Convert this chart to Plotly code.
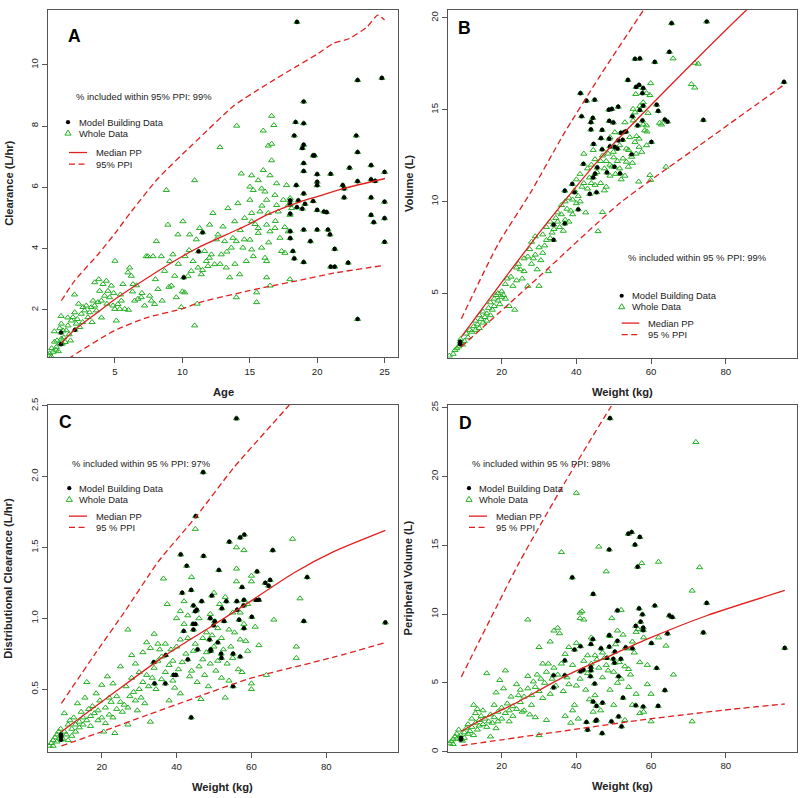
import plotly.graph_objects as go

W, H = 800, 798
FONT = "Arial, 'Liberation Sans', Helvetica, sans-serif"
GREEN = "#22b022"
RED = "#e0201e"
FRAME = "#555555"
TXT = "#222222"

# ---------------- Panel A: Clearance vs Age ----------------
a_model = [(0.99,1.26),(0.99,0.88),(2.03,1.35),(10.1,3.06),(11.2,3.91),(11.5,4.53),(18.5,11.40),(18.4,8.13),
           (18.3,7.69),(19.0,8.80),(19.0,8.09),(19.0,7.39),(18.9,7.28),(19.0,6.79),(19.0,6.53),(18.45,6.07),
           (18.0,5.57),(18.0,5.45),(18.0,5.14),(18.6,5.57),(18.5,5.35),(18.9,5.30),(19.0,5.80),(19.1,5.46),
           (18.0,4.57),(18.0,4.34),(18.2,3.92),(18.3,3.68),(19.0,4.62),(19.0,3.56),(19.7,7.04),(19.8,7.04),
           (19.7,5.55),(20.0,6.43),(20.0,6.18),(20.0,6.07),(20.0,5.26),(20.0,4.62),(19.5,4.24),(20.5,5.21),
           (20.7,5.19),(21.0,6.44),(20.8,4.62),(20.95,4.46),(21.3,3.99),(21.0,3.41),(21.3,3.41),(21.9,6.07),
           (22.0,5.96),(22.0,5.67),(22.4,6.64),(22.3,3.54),(22.9,7.69),(23.0,9.50),(23.0,7.15),(23.0,6.20),
           (23.0,1.70),(24.0,6.72),(24.0,6.26),(24.0,5.67),(24.0,5.10),(24.2,4.86),(24.3,6.21),(24.8,9.57),
           (25.0,6.50),(25.0,5.53),(25.0,4.99),(25.0,4.22)]
a_other = [(0.40,0.63),(0.65,0.79),(0.90,0.90),(0.52,0.96),(1.02,1.06),(0.28,0.47),(0.15,0.58),(1.14,1.33),
           (1.02,1.55),(1.39,1.33),(1.51,1.49),(1.76,1.65),(1.88,1.76),(2.01,1.92),(2.13,1.55),(2.38,1.44),
           (2.50,1.87),(2.63,2.09),(2.75,1.98),(2.87,2.14),(3.00,1.76),(3.12,1.92),(3.24,2.09),(3.37,2.30),
           (3.49,2.14),(3.62,1.98),(3.74,2.25),(3.86,2.62),(3.99,2.30),(4.11,2.84),(4.23,2.46),(4.36,2.95),
           (4.48,2.62),(4.60,2.41),(4.73,2.79),(4.85,2.14),(4.98,2.03),(5.10,1.65),(5.22,2.19),(5.35,2.03),
           (5.47,2.30),(5.59,2.84),(5.72,2.03),(5.96,3.22),(6.09,3.38),(6.21,3.11),(6.34,2.84),(6.46,2.30),
           (6.71,2.36),(6.95,2.41),(7.20,2.14),(7.32,3.75),(7.45,3.75),(7.57,2.46),(7.70,2.30),(7.82,3.75),
           (7.94,2.19),(8.07,4.24),(8.19,2.68),(8.44,3.75),(8.68,3.27),(8.81,5.91),(8.93,4.78),(9.06,3.59),
           (9.18,2.79),(9.30,3.81),(9.43,3.11),(9.55,2.41),(9.67,4.46),(9.92,2.09),(10.04,4.89),(10.17,2.57),
           (10.42,3.11),(10.54,4.46),(10.66,3.27),(10.79,3.59),(10.91,1.49),(10.91,6.23),(11.03,4.30),
           (11.16,3.38),(11.28,4.67),(11.40,3.16),(11.65,3.92),(11.78,3.59),(11.90,3.43),(12.02,4.78),
           (12.15,3.81),(12.27,5.16),(12.39,3.49),(12.52,4.30),(12.64,4.46),(12.89,3.81),(13.01,4.72),
           (13.14,4.24),(13.26,3.38),(13.38,5.32),(13.51,3.06),(13.63,4.03),(13.75,4.35),(13.88,4.89),
           (14.00,4.24),(14.12,5.48),(14.25,3.16),(14.37,6.45),(14.49,4.03),(14.62,5.00),(14.74,3.59),
           (14.00,2.41),(0.1,0.5),(0.3,0.75),(0.6,0.7),(0.7,1.0),(0.8,0.65),(1.1,0.9),(1.2,1.1),(1.3,0.95),
           (1.6,1.2),(1.7,1.0),(0.5,1.3),(0.9,1.4),(1.0,1.8),(1.5,1.75),(2.2,1.7),(2.3,2.2),(2.0,2.5),
           (2.6,1.6),(3.3,1.6),(3.5,2.9),(3.8,3.0),(4.0,1.75),(4.4,2.2),(4.9,2.55),(5.0,3.6),(5.4,2.5),
           (6.0,2.0),(6.3,2.6),(6.6,2.8),(7.0,2.55),(8.0,3.0),(8.5,2.3),(9.0,2.75),(9.7,3.5),(10.2,3.75),
           (10.0,2.6),(10.5,3.95),(11.1,2.2),(11.5,3.3),(12.0,3.7),(12.8,3.5),(13.3,3.9),(13.9,3.5),
           (14.3,4.6),(14.6,4.3),(12.79,7.31),(14.03,8.01),
           (16.62,8.33),(16.79,8.03),(16.0,7.85),(16.62,7.42),(16.37,7.36),(16.62,6.88),(15.14,6.39),
           (16.0,6.56),(16.50,6.39),(15.63,6.23),(15.01,6.02),(15.26,5.91),(15.88,5.96),(16.13,5.86),
           (16.99,6.13),(17.73,6.07),(16.87,5.75),(15.01,5.59),(16.25,5.59),(16.99,5.42),(17.49,5.59),
           (15.14,5.16),(15.76,5.21),(16.37,5.16),(17.12,5.21),(17.86,5.42),(15.14,4.89),(15.63,4.67),
           (16.25,4.78),(16.87,4.67),(17.24,4.35),(17.86,4.56),(15.01,4.29),(15.63,4.51),(16.50,4.56),
           (15.14,3.97),(15.88,4.03),(17.36,3.92),(17.61,3.86),(15.26,3.75),(16.13,3.70),(16.25,3.59),
           (16.25,3.06),(17.98,3.0),(16.50,2.79),(15.51,2.57),(15.51,2.25),(17.98,5.10),(18.11,5.32),
           (18.0,5.65),(17.6,4.7),(15.4,4.8),(15.9,5.4),(16.4,4.2),(16.9,4.9)]
a_med = [(1.0,0.90),(2.0,1.35),(3.74,1.93),(5.0,2.35),(7.45,3.06),(10.0,3.75),(11.16,4.03),(14.87,4.78),
         (16.25,5.10),(18.72,5.53),(20.0,5.70),(21.94,5.96),(25.03,6.29)]
a_hi = [(1.02,2.30),(2.0,2.95),(3.74,3.81),(5.0,4.5),(6.21,5.21),(8.19,6.29),(10.66,7.36),(11.31,7.63),
        (13.78,8.65),(16.25,9.36),(18.48,9.95),(20.0,10.35),(21.2,10.7),(22.4,10.86),(23.7,11.24),
        (24.5,11.62),(25.0,11.46)]
a_lo = [(1.0,0.22),(1.76,0.47),(4.98,1.33),(7.45,1.76),(9.92,2.03),(11.31,2.25),(14.87,2.62),
        (16.25,2.75),(18.5,2.95),(21.2,3.20),(24.9,3.45)]

# ---------------- Panel B: Volume vs Weight ----------------
b_model = [(8.9,2.36),(8.9,2.23),(33.9,8.74),(33.9,7.91),(36.9,8.80),(36.9,10.59),(38.9,10.95),(39.5,10.50),
           (40.5,9.57),(41.1,15.90),(41.4,14.64),(41.9,12.05),(42.7,15.49),(43.6,10.41),(43.9,14.32),
           (43.9,13.92),(44.4,14.55),(44.5,11.31),(44.6,13.13),(45.0,11.51),(44.9,15.54),(45.4,10.50),
           (45.6,11.85),(46.6,13.45),(46.9,13.90),(46.9,12.84),(48.2,11.58),(48.7,15.0),(48.8,14.39),
           (48.8,13.42),(49.0,13.0),(49.5,15.04),(49.9,14.3),(50.2,11.89),(50.3,12.97),(51.0,12.88),
           (51.2,15.16),(51.2,13.33),(51.7,11.53),(51.9,13.74),(52.4,13.36),(52.8,13.78),(53.3,13.81),
           (53.8,16.62),(55.0,14.64),(54.8,12.57),(55.7,17.77),(56.0,16.24),(56.4,14.14),(56.8,16.35),
           (57.0,17.79),(57.0,14.98),(57.7,15.90),(57.9,15.22),(57.9,16.17),(57.7,14.41),(60.1,13.24),
           (61.0,17.6),(61.5,15.27),(61.9,14.93),(63.7,14.46),(64.4,14.35),(64.9,18.15),(65.5,19.71),
           (74.0,14.44),(74.9,19.80),(95.6,16.51)]
b_other = [(6,1.6),(7,1.7),(7.5,1.9),(8,2.0),(8.5,2.1),(9,2.5),(9.5,2.2),(10,2.4),(10.5,2.8),(11,2.6),
           (11.5,3.0),(12,2.9),(12.5,3.2),(13,3.0),(13,3.5),(13.5,3.3),(14,3.8),(14,3.1),(14.5,3.6),
           (15,3.4),(15,4.0),(15.5,3.7),(16,3.9),(16,3.5),(16.5,4.2),(17,4.5),(17,3.8),(17.5,4.1),(18,4.7),
           (18,4.3),(18.5,4.9),(19,4.6),(19,5.0),(19.5,4.4),(20,4.8),(20,5.1),(20.5,4.9),(21,5.5),(21,4.7),
           (21.5,5.8),(22,4.3),(22.5,5.9),(23,5.4),(23.5,4.1),(24,6.4),(24,5.7),(24.5,6.6),(25,6.3),
           (25.5,5.8),(26,6.9),(26,6.2),(27,7.0),(27,5.4),(27.5,7.4),(28,6.6),(28,7.8),(28.5,6.9),(29,7.1),
           (29,8.1),(29.5,6.3),(30,7.5),(30,5.4),(30.5,6.8),(31,7.2),(31,8.2),(31.5,7.6),(32,8.6),(32,7.9),
           (32.5,6.2),(33,8.0),(33,8.9),(33.5,8.3),(34,8.5),(34.5,9.1),(35,8.9),(35,9.4),(35.5,8.6),
           (36,9.8),(36,9.3),(36.5,8.4),(37,10.0),(37,9.0),(37.5,9.6),(38,10.2),(38,8.9),(38.5,9.5),
           (39,10.1),(39,9.3),(39.5,10.6),(40,9.9),(40,11.2),(40.5,10.3),(41,10.0),(41,11.5),(41.5,10.8),
           (42,12.6),(42,11.0),(42.5,9.4),(43,11.8),(43,10.7),(43.5,11.3),(44,12.0),(44,11.0),(44.5,12.8),
           (45,12.3),(45,10.9),(45.5,11.6),(45.8,8.38),(47.0,9.42),(56.7,11.08),(59.7,11.44),(59.9,11.17),
           (64.0,11.89),(65.9,17.79),(72.6,17.5),(71.7,17.55),(70.8,16.39),(71.7,16.2),(59.9,16.44),
           (55.9,15.85),(58.8,15.9),(59.7,15.79),(57.9,15.4),(57.0,15.2),(55.2,15.04),(55.7,14.85),
           (59.2,14.82),(62.3,14.28),(62.8,14.19),(53.0,14.31),(55.2,14.41),(57.9,14.19),(58.8,14.14),
           (58.3,13.87),(58.9,13.81),(50.3,13.77),(49.0,13.5),(54.3,13.5),(56.1,13.56),(56.8,13.42),
           (51.6,13.06),(53.4,12.88),(55.7,13.24),(56.8,12.97),(57.5,12.7),(58.8,13.06),(52.5,12.34),
           (53.4,12.16),(54.8,12.43),(49.9,12.7),(51.6,11.8),(53.9,11.89),(46.5,12.2),(46.5,11.0),
           (47.5,11.8),(48,12.2),(48,10.8),(48.5,12.6),(49,12.0),(49,11.4),(50,12.4),(50.5,11.5),(51,12.2),
           (52,11.2),(53,11.4),(54,12.8),(55,12.1),(47,12.5),(47.5,10.6),(49.5,11.9),(56,12.6)]
b_med = [(9.2,2.63),(20,5.6),(32.4,8.9),(46.3,12.34),(64.1,16.1),(86,20.52),(96,22.4)]
b_hi = [(9.2,3.61),(19,7.66),(27.9,10.54),(36.4,13.6),(46.3,16.83),(58.3,20.52),(70,24.0)]
b_lo = [(9.2,2.09),(30,5.9),(51.6,9.9),(73,13.06),(95.8,16.39)]

# ---------------- Panel C: Distributional clearance vs Weight ----------------
c_model = [(9.1,0.167),(9.1,0.144),(9.1,0.18),(33.9,0.69),(34.1,0.54),(37.0,0.54),(37.1,0.74),(39.2,0.60),
           (39.8,0.60),(41.1,1.45),(41.5,1.18),(41.9,0.91),(42.7,1.37),(43.0,0.71),(43.9,1.20),(43.9,0.30),
           (44.4,0.96),(44.5,1.09),(44.5,0.92),(45.0,0.96),(45.1,1.72),(45.0,1.05),(45.4,1.06),(45.6,0.78),
           (46.7,1.12),(47.1,2.03),(47.2,1.44),(49.4,1.16),(48.8,0.85),(49.0,1.0),(49.1,0.78),(49.1,0.77),
           (49.9,0.95),(50.2,0.98),(51.0,0.83),(51.3,1.34),(52.1,1.07),(51.9,0.75),(52.0,0.72),(52.7,0.98),
           (53.3,1.12),(54.1,1.54),(55.1,0.75),(55.1,0.52),(56.0,2.41),(56.1,1.12),(56.2,1.06),(56.7,0.99),
           (57.0,0.73),(57.0,1.57),(57.5,1.22),(57.9,1.09),(58.0,1.13),(58.1,1.59),(58.0,0.93),(60.1,1.01),
           (61.5,1.33),(61.2,1.13),(62.0,1.13),(63.7,1.25),(64.6,1.23),(65.0,1.27),(65.7,1.48),(74.9,1.29),
           (74.0,0.98),(95.8,0.97)]
c_other = [(6,0.1),(6.5,0.12),(7,0.14),(7,0.1),(7.5,0.16),(8,0.18),(8,0.13),(8.5,0.2),(9,0.22),(9.5,0.15),
           (10,0.33),(10,0.2),(10.5,0.18),(11,0.25),(11,0.14),(11.5,0.28),(12,0.22),(12,0.17),(12.5,0.3),
           (13,0.25),(13,0.2),(13.5,0.4),(14,0.27),(14,0.23),(14.5,0.34),(15,0.3),(15,0.25),(15.5,0.44),
           (16,0.28),(16,0.55),(16.5,0.36),(17,0.31),(17,0.24),(17.5,0.38),(18,0.33),(18.5,0.47),(19,0.35),
           (19,0.28),(19.5,0.42),(20,0.3),(20,0.53),(20.5,0.2),(21,0.37),(21,0.26),(21.5,0.59),(22,0.44),
           (22,0.32),(22.5,0.41),(23,0.54),(23,0.3),(23.5,0.19),(24,0.45),(24,0.36),(25,0.66),(25,0.41),
           (25.5,0.34),(26,0.39),(26.5,0.52),(27,0.92),(27,0.37),(27,0.25),(27.5,0.45),(28,0.74),(28,0.58),
           (28.5,0.48),(29,0.68),(29,0.42),(29.5,0.35),(30,0.62),(30,0.5),(30.5,0.44),(31,0.76),(31,0.55),
           (31.5,0.4),(32,0.83),(32,0.6),(32.5,0.52),(33,0.27),(33,0.79),(33.5,0.58),(34,0.89),(34,0.65),
           (34.5,0.5),(35,0.82),(35,0.7),(35.5,0.78),(36,0.57),(36,0.73),(36.5,1.28),(37,0.62),(37,0.82),
           (37.5,1.1),(38,0.67),(38,0.42),(38.5,0.78),(39,0.56),(39,0.7),(39.5,0.51),(40,1.0),(40,0.8),
           (40.5,0.64),(41,1.05),(41,0.85),(41,0.47),(41.5,0.69),(42,1.12),(42,0.96),(42.5,0.75),(43,1.02),
           (43,0.86),(43.5,0.59),(44,1.29),(44,0.63),(44.5,0.77),(45,1.63),(45,0.82),(45.5,0.55),(46,0.66),
           (46,1.0),(46.5,0.43),(47,0.86),(47,0.71),(47.5,0.6),(48,0.9),(48,0.76),(48.5,0.52),(49,1.03),
           (49,0.68),(49.5,0.88),(50,1.18),(50,0.8),(50.5,0.63),(51,0.93),(51,0.7),(51.5,1.1),(52,0.58),
           (52,0.86),(52.5,0.78),(53,1.15),(53,0.44),(53.5,0.68),(54,0.92),(54,0.56),(54.5,0.8),(55,1.04),
           (55,0.72),(55.5,0.9),(56,1.5),(56,1.35),(56,1.26),(56.5,0.64),(57,1.04),(57,0.85),(57.5,0.62),
           (58,1.48),(58,0.96),(58.5,0.84),(59,1.1),(59,0.77),(60,1.3),(60,1.26),(60,0.54),(60,0.5),
           (61,0.94),(62,0.81),(64,0.6),(66,0.99),(71,1.56),(72,0.8),(72,0.72),(73,1.14)]
c_med = [(9.2,0.20),(23.5,0.48),(36.9,0.737),(50.2,0.958),(59.1,1.109),(71.3,1.32),(82,1.47),(95.8,1.62)]
c_hi = [(9.2,0.40),(18.1,0.745),(26.2,1.05),(35.1,1.40),(45.3,1.72),(55.2,2.06),(69.3,2.48),(80,2.8)]
c_lo = [(9.2,0.10),(20,0.20),(32.4,0.32),(45,0.44),(59.5,0.575),(82,0.726),(95.4,0.826)]

# ---------------- Panel D: Peripheral volume vs Weight ----------------
d_model = [(9.1,1.0),(9.1,0.89),(33.9,5.55),(33.9,4.67),(36.9,6.63),(36.9,5.55),(38.9,12.66),(39.5,7.42),
           (41.1,7.66),(41.1,5.84),(41.9,5.96),(42.7,2.15),(43.0,1.6),(43.9,5.91),(43.9,7.82),(44.4,8.18),
           (43.8,5.48),(43.9,6.15),(44.5,11.46),(44.5,3.64),(44.9,4.95),(45.2,2.25),(45.4,3.33),(45.4,2.32),
           (46.6,7.51),(46.9,1.34),(47.0,3.56),(48.2,6.82),(48.8,14.69),(48.8,7.63),(48.8,8.47),(49.4,2.2),
           (49.9,6.75),(50.2,6.46),(50.3,7.27),(51.0,8.06),(51.0,10.26),(51.3,2.56),(51.3,5.48),(51.9,6.75),
           (52.1,1.84),(52.5,3.92),(53.2,7.58),(53.9,15.84),(54.8,15.96),(55.0,7.51),(55.7,15.05),(55.9,9.14),
           (55.9,3.37),(56.4,13.44),(56.8,10.41),(57.0,15.6),(57.2,9.45),(57.7,9.98),(57.9,9.02),(57.9,8.83),
           (57.9,3.28),(60.1,7.89),(61.0,10.62),(61.5,6.08),(61.9,3.33),(63.7,4.47),(64.4,8.59),(64.9,9.9),
           (65.7,9.78),(49.0,24.23),(74.0,8.66),(74.9,10.81),(95.8,7.54)]
d_other = [(6,0.6),(6.5,0.75),(7,0.9),(7,0.55),(7.5,1.1),(8,0.95),(8,1.3),(8.5,1.6),(9,1.2),(9.5,0.8),
           (10,1.4),(10,1.0),(10.5,1.7),(11,1.3),(11,2.0),(11.5,1.5),(12,1.8),(12,2.4),(12.5,3.4),(12.5,1.2),
           (13,2.1),(13,2.8),(13.5,1.6),(13.5,3.1),(14,2.3),(14,1.9),(14.5,2.6),(15,2.0),(15,3.0),(15.5,2.4),
           (16,5.7),(16,1.8),(16.5,2.2),(17,2.7),(17,1.1),(17.5,2.1),(18,3.4),(18,2.5),(18.5,4.3),(18.5,1.7),
           (19,2.9),(19,2.2),(19.5,5.2),(20,3.2),(20,2.4),(20.5,4.6),(21,5.9),(21,2.8),(21.5,3.5),(22,2.2),
           (22,3.0),(22.5,4.0),(23,3.3),(23,2.6),(24,4.9),(24,3.1),(24.5,4.1),(25,4.5),(25,3.6),(25.5,2.9),
           (26,4.0),(26,3.0),(27,9.6),(27,5.5),(27,4.6),(27.5,2.7),(28,4.1),(28,3.4),(28.5,5.1),(29,4.7),
           (29,2.5),(29.5,5.6),(30,7.6),(30,1.2),(30,4.4),(30.5,5.3),(31,6.4),(31,3.9),(31.5,5.0),(32,5.8),
           (32,2.3),(32.5,6.4),(33,8.0),(33,4.2),(33.5,5.3),(34,8.8),(34,6.1),(34.5,4.8),(35,9.0),(35,5.6),
           (35.5,8.6),(36,14.5),(36,6.4),(36.5,4.4),(37,7.1),(37,2.6),(37.5,5.4),(38,7.6),(38,4.9),(38.5,2.1),
           (39,6.3),(39,3.0),(39.5,3.4),(40,18.8),(40,7.9),(40,4.8),(40.5,2.4),(41,10.1),(41,9.7),(41,5.3),
           (41.5,10.2),(42,9.6),(42,6.6),(42.5,4.5),(43,7.0),(43,5.7),(43.5,3.8),(44,8.3),(44,6.4),(44.5,2.9),
           (45,7.0),(45,4.1),(45.5,6.7),(46,14.9),(46,6.1),(46.5,3.0),(47,5.4),(47,7.2),(47.5,6.8),(48,13.1),
           (48,6.3),(48.5,5.9),(49,8.4),(49,4.5),(49.5,9.7),(50,3.4),(50,5.8),(50.5,7.8),(51,8.8),(51,5.0),
           (51.5,6.5),(52,5.3),(52,10.3),(52.5,8.5),(53,6.2),(53,2.3),(53.5,7.5),(54,4.7),(54,6.0),(54.5,5.6),
           (55,8.0),(55,3.4),(55.5,7.2),(56,8.7),(56,4.2),(56.5,8.9),(57,6.5),(57,2.8),(57.5,13.7),(58,8.3),
           (58,2.9),(59,4.9),(59,6.3),(60,4.2),(60,2.2),(62,13.8),(62,8.3),(64,7.7),(66,5.6),(71,11.7),
           (72,22.5),(71,2.2),(73,13.4)]
d_med = [(9.2,1.48),(15,2.4),(23.5,3.5),(37,5.5),(50,7.1),(59.1,8.2),(75,9.9),(95.8,11.72)]
d_hi = [(9.2,5.44),(24.8,13.8),(37,19.6),(49.2,25.05),(60,29.5)]
d_lo = [(9.2,0.45),(20,0.87),(35,1.45),(59.1,2.37),(82,3.1),(95.8,3.47)]

# ---------------- Layout geometry (pixels) ----------------
panels = [
    dict(key="", data=(a_model, a_other, a_med, a_hi, a_lo),
         box=(48, 398.3, 2.7, 354.0), xr=[0.03, 26.02], yr=[0.449, 11.80],
         xt=[5, 10, 15, 20, 25], yt=[2, 4, 6, 8, 10], yfmt="",
         xtitle="Age", ytitle="Clearance (L/hr)", letter="A", letter_xy=(74.7, 29),
         pct="% included within 95% PPI: 99%", pct_xy=(75, 90), sym_x=68, txt_x=78.3,
         y_dot=116.3, y_tri=127.3, line_x=(69, 87), ltxt_x=95, y_med=147, y_ppi=158.7,
         ppi_label="95% PPI"),
    dict(key="2", data=(b_model, b_other, b_med, b_hi, b_lo),
         box=(448, 796.7, 2.7, 354.3), xr=[5.63, 99.0], yr=[1.49, 20.45],
         xt=[20, 40, 60, 80], yt=[5, 10, 15, 20], yfmt="",
         xtitle="Weight (kg)", ytitle="Volume (L)", letter="B", letter_xy=(464.3, 21.7),
         pct="% included within 95 % PPI: 99%", pct_xy=(627.3, 253.3), sym_x=621.7, txt_x=630.7,
         y_dot=291.7, y_tri=302.7, line_x=(621.7, 639.3), ltxt_x=647.3, y_med=319.3, y_ppi=331,
         ppi_label="95 % PPI"),
    dict(key="3", data=(c_model, c_other, c_med, c_hi, c_lo),
         box=(48, 397.7, 401.7, 752.7), xr=[5.63, 99.1], yr=[0.056, 2.507],
         xt=[20, 40, 60, 80], yt=[0.5, 1.0, 1.5, 2.0, 2.5], yfmt=".1f",
         xtitle="Weight (kg)", ytitle="Distributional Clearance (L/hr)", letter="C", letter_xy=(65, 419),
         pct="% included within 95 % PPI: 97%", pct_xy=(71, 461), sym_x=69.3, txt_x=78.3,
         y_dot=486, y_tri=497.3, line_x=(69, 87), ltxt_x=95, y_med=514.3, y_ppi=525.7,
         ppi_label="95 % PPI"),
    dict(key="4", data=(d_model, d_other, d_med, d_hi, d_lo),
         box=(448, 796.7, 401.7, 752.3), xr=[5.63, 99.0], yr=[0.0, 25.22],
         xt=[20, 40, 60, 80], yt=[0, 5, 10, 15, 20, 25], yfmt="",
         xtitle="Weight (kg)", ytitle="Peripheral Volume (L)", letter="D", letter_xy=(465, 420),
         pct="% included within 95 % PPI: 98%", pct_xy=(471, 461), sym_x=469, txt_x=478,
         y_dot=486, y_tri=497.3, line_x=(469, 487), ltxt_x=495, y_med=514.3, y_ppi=525.7,
         ppi_label="95 % PPI"),
]


def px(x):
    return x / W


def py(y):
    return 1 - y / H


def unzip(pairs):
    return [p[0] for p in pairs], [p[1] for p in pairs]


fig = go.Figure()
annotations = []
shapes = []
layout_axes = {}

for p in panels:
    k = p["key"]
    xa, ya = "x" + k, "y" + k
    model, other, med, hi, lo = p["data"]
    whole = other + model
    wx, wy = unzip(whole)
    mx, my = unzip(model)
    fig.add_trace(go.Scatter(x=wx, y=wy, mode="markers", xaxis=xa, yaxis=ya, name="Whole Data",
                             marker=dict(symbol="triangle-up-open", size=5.4, color=GREEN,
                                         line=dict(width=1, color=GREEN))))
    fig.add_trace(go.Scatter(x=mx, y=my, mode="markers", xaxis=xa, yaxis=ya, name="Model Building Data",
                             marker=dict(symbol="circle", size=4.4, color="black", line=dict(width=0))))
    for series, dash, nm in ((med, "solid", "Median PP"), (hi, "6px,3.5px", "95% PPI"),
                             (lo, "6px,3.5px", "95% PPI")):
        lx_, ly_ = unzip(series)
        fig.add_trace(go.Scatter(x=lx_, y=ly_, mode="lines", xaxis=xa, yaxis=ya, name=nm,
                                 line=dict(color=RED, width=1.3, dash=dash, shape="spline",
                                           smoothing=0.6)))

    x0, x1, y0, y1 = p["box"]
    common = dict(showline=True, linecolor=FRAME, linewidth=1, mirror=True, showgrid=False,
                  zeroline=False, ticks="outside", ticklen=5, tickwidth=1, tickcolor=FRAME,
                  tickfont=dict(family=FONT, size=9.6, color=TXT))
    layout_axes["xaxis" + k] = dict(domain=[px(x0), px(x1)], range=p["xr"], tickvals=p["xt"],
                                    anchor=ya, **common)
    ydict = dict(domain=[py(y1), py(y0)], range=p["yr"], tickvals=p["yt"], anchor=xa,
                 tickangle=-90, **common)
    if p["yfmt"]:
        ydict["tickformat"] = p["yfmt"]
    layout_axes["yaxis" + k] = ydict

    # axis titles
    annotations.append(dict(text="<b>%s</b>" % p["xtitle"], x=px((x0 + x1) / 2), y=py(y1 + 35),
                            xref="paper", yref="paper", showarrow=False, xanchor="center",
                            yanchor="middle", font=dict(family=FONT, size=11.2, color=TXT)))
    annotations.append(dict(text="<b>%s</b>" % p["ytitle"], x=px(x0 - 39.7), y=py((y0 + y1) / 2),
                            xref="paper", yref="paper", showarrow=False, xanchor="center",
                            yanchor="middle", textangle=-90,
                            font=dict(family=FONT, size=11.2, color=TXT)))
    # panel letter
    lxy = p["letter_xy"]
    annotations.append(dict(text="<b>%s</b>" % p["letter"], x=px(lxy[0]), y=py(lxy[1]),
                            xref="paper", yref="paper", showarrow=False, xanchor="center",
                            yanchor="middle", font=dict(family=FONT, size=17.5, color="black")))
    # percentage text
    annotations.append(dict(text=p["pct"], x=px(p["pct_xy"][0]), y=py(p["pct_xy"][1]),
                            xref="paper", yref="paper", showarrow=False, xanchor="left",
                            yanchor="middle", borderpad=0,
                            font=dict(family=FONT, size=9.4, color=TXT)))
    # legend texts
    for txt, tx, ty in (("Model Building Data", p["txt_x"], p["y_dot"]),
                        ("Whole Data", p["txt_x"], p["y_tri"]),
                        ("Median PP", p["ltxt_x"], p["y_med"]),
                        (p["ppi_label"], p["ltxt_x"], p["y_ppi"])):
        annotations.append(dict(text=txt, x=px(tx), y=py(ty), xref="paper", yref="paper",
                                showarrow=False, xanchor="left", yanchor="middle", borderpad=0,
                                font=dict(family=FONT, size=9.4, color=TXT)))
    # legend symbols
    sx, r = p["sym_x"], 2.1
    shapes.append(dict(type="circle", xref="paper", yref="paper", x0=px(sx - r), x1=px(sx + r),
                       y0=py(p["y_dot"] + r), y1=py(p["y_dot"] - r), fillcolor="black",
                       line=dict(width=0)))
    ty = p["y_tri"]
    path = "M %f %f L %f %f L %f %f Z" % (px(sx), py(ty - 3.0), px(sx - 3.1), py(ty + 2.1),
                                           px(sx + 3.1), py(ty + 2.1))
    shapes.append(dict(type="path", path=path, xref="paper", yref="paper",
                       line=dict(color=GREEN, width=1)))
    la, lb = p["line_x"]
    shapes.append(dict(type="line", xref="paper", yref="paper", x0=px(la), x1=px(lb),
                       y0=py(p["y_med"]), y1=py(p["y_med"]), line=dict(color=RED, width=1.3)))
    shapes.append(dict(type="line", xref="paper", yref="paper", x0=px(la), x1=px(lb),
                       y0=py(p["y_ppi"]), y1=py(p["y_ppi"]),
                       line=dict(color=RED, width=1.3, dash="6px,3.5px")))

fig.update_layout(width=W, height=H, margin=dict(l=0, r=0, t=0, b=0),
                  paper_bgcolor="white", plot_bgcolor="white", showlegend=False,
                  font=dict(family=FONT, color=TXT), annotations=annotations, shapes=shapes,
                  **layout_axes)

fig.write_html("out.html", config={"displayModeBar": False},
               post_script="document.body.style.margin='0';document.body.style.overflow='hidden';")
